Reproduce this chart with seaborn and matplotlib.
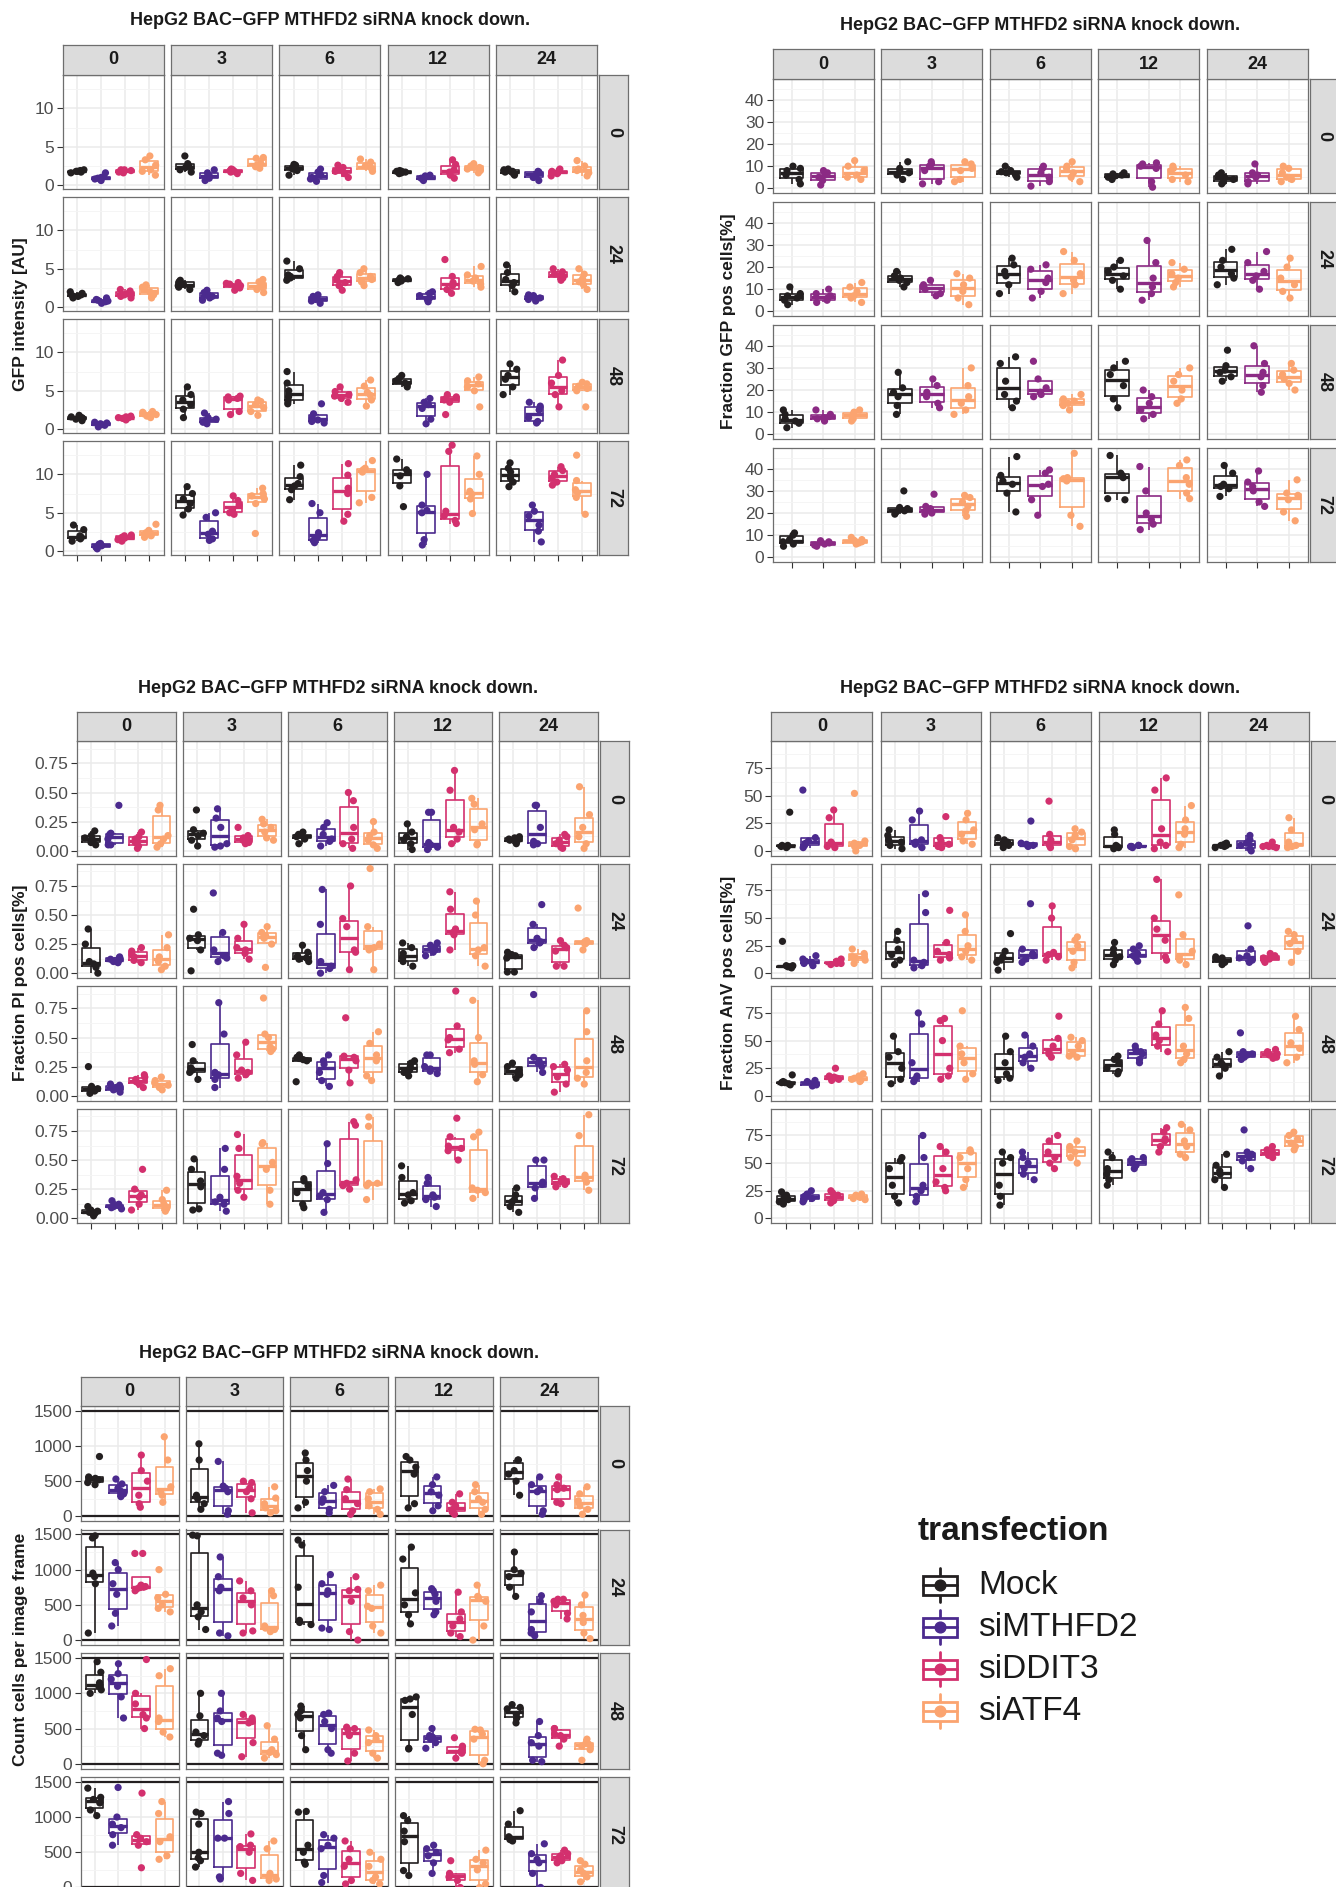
import numpy as np
import pandas as pd
import matplotlib
matplotlib.use("Agg")
import matplotlib.pyplot as plt
from matplotlib.patches import Rectangle
import seaborn as sns

np.random.seed(7)

W, H = 1336, 1887

COLS = ["0", "3", "6", "12", "24"]
ROWS = ["0", "24", "48", "72"]
GROUPS4 = ["Mock", "siMTHFD2", "siDDIT3", "siATF4"]
GROUPS3 = ["Mock", "siMTHFD2", "siATF4"]
PAL4 = ["#231f20", "#4b2a8e", "#d3306e", "#fba470"]
PAL3 = ["#231f20", "#8b2a84", "#fba470"]
TITLE = "HepG2 BAC\u2212GFP MTHFD2 siRNA knock down."

# ===== panel 1: GFP intensity [AU]  (row = facet row, list over columns, then groups) =====
GFP_INT_0 = [
    [[1.6, 1.7, 1.8, 1.9, 2.0, 1.8], [0.6, 0.8, 0.9, 1.0, 1.1, 1.6], [1.6, 1.7, 1.8, 1.9, 2.0, 2.0], [1.3, 1.8, 2.0, 2.6, 3.3, 3.8]],
    [[1.7, 2.0, 2.3, 2.5, 2.8, 3.8], [0.6, 0.9, 1.1, 1.3, 1.6, 2.0], [1.5, 1.7, 1.8, 1.9, 2.0, 2.1], [2.2, 2.4, 2.6, 2.9, 3.5, 3.6]],
    [[1.3, 1.9, 2.1, 2.3, 2.6, 2.7], [0.5, 0.8, 1.0, 1.3, 1.7, 2.1], [1.0, 1.5, 1.8, 2.0, 2.3, 2.6], [1.8, 2.0, 2.3, 2.5, 3.0, 3.4]],
    [[1.5, 1.6, 1.7, 1.8, 1.8, 1.9], [0.6, 0.8, 0.9, 1.0, 1.2, 1.3], [0.9, 1.3, 1.7, 2.0, 2.7, 3.3], [1.6, 1.9, 2.1, 2.3, 2.5, 2.8]],
    [[1.3, 1.5, 1.7, 1.8, 2.0, 2.1], [0.6, 1.0, 1.3, 1.5, 1.7, 1.8], [1.2, 1.5, 1.6, 1.8, 1.9, 2.1], [1.2, 1.6, 1.9, 2.1, 2.5, 3.2]],
]
GFP_INT_24 = [
    [[1.2, 1.4, 1.5, 1.6, 1.8, 2.0], [0.5, 0.7, 0.8, 0.9, 1.0, 1.2], [1.2, 1.4, 1.6, 1.8, 2.1, 2.3], [1.2, 1.6, 2.0, 2.3, 2.6, 2.9]],
    [[2.3, 2.6, 2.8, 3.0, 3.3, 3.5], [0.9, 1.2, 1.4, 1.6, 1.9, 2.2], [2.2, 2.5, 2.8, 3.0, 3.1, 3.2], [1.9, 2.3, 2.6, 2.9, 3.3, 3.6]],
    [[3.5, 3.8, 4.0, 4.2, 5.0, 6.0], [0.5, 0.8, 1.0, 1.2, 1.4, 1.6], [2.2, 2.8, 3.2, 3.6, 4.0, 4.5], [2.8, 3.3, 3.6, 4.0, 4.5, 5.0]],
    [[3.2, 3.4, 3.5, 3.6, 3.7, 3.8], [0.7, 1.0, 1.2, 1.5, 1.8, 2.0], [1.8, 2.3, 2.8, 3.2, 4.0, 6.2], [2.6, 3.0, 3.4, 3.8, 4.2, 5.3]],
    [[2.0, 2.8, 3.2, 3.6, 4.5, 5.5], [0.8, 1.0, 1.2, 1.3, 1.5, 1.6], [3.5, 3.8, 4.1, 4.3, 4.6, 5.0], [2.3, 2.9, 3.3, 3.7, 4.3, 5.0]],
]
GFP_INT_48 = [
    [[1.1, 1.3, 1.4, 1.5, 1.6, 1.8], [0.3, 0.5, 0.6, 0.7, 0.8, 0.9], [1.2, 1.4, 1.5, 1.5, 1.6, 1.7], [1.5, 1.7, 1.9, 2.0, 2.2, 2.3]],
    [[1.5, 2.6, 3.2, 3.8, 4.5, 5.5], [0.7, 0.9, 1.1, 1.3, 1.5, 2.1], [1.9, 2.3, 3.8, 4.0, 4.2, 4.3], [1.8, 2.3, 2.8, 3.2, 3.6, 3.8]],
    [[3.3, 3.6, 4.2, 5.0, 6.0, 7.5], [0.8, 1.0, 1.2, 1.4, 2.0, 3.3], [3.5, 4.0, 4.3, 4.5, 4.9, 5.5], [3.0, 3.8, 4.4, 4.8, 5.6, 6.4]],
    [[5.5, 5.8, 6.0, 6.3, 6.6, 7.0], [0.7, 1.3, 2.7, 3.2, 3.5, 4.0], [1.9, 3.5, 3.8, 4.0, 4.2, 4.5], [2.9, 5.0, 5.5, 5.9, 6.3, 6.8]],
    [[4.5, 5.5, 6.5, 7.0, 7.8, 8.5], [0.8, 1.0, 1.5, 2.5, 3.0, 3.5], [2.9, 4.5, 5.0, 6.0, 7.0, 9.0], [2.9, 5.0, 5.3, 5.6, 5.9, 6.1]],
]
GFP_INT_72 = [
    [[1.3, 1.6, 1.8, 2.0, 2.8, 3.4], [0.3, 0.5, 0.7, 0.8, 0.9, 1.0], [1.3, 1.5, 1.7, 1.8, 2.0, 2.1], [1.8, 2.0, 2.2, 2.4, 2.7, 3.5]],
    [[4.7, 5.5, 6.2, 6.8, 7.5, 8.4], [1.4, 1.6, 2.2, 2.6, 4.4, 5.0], [4.8, 5.0, 5.4, 6.0, 6.6, 7.2], [2.3, 6.2, 6.8, 7.2, 7.5, 8.2]],
    [[6.7, 8.0, 8.5, 8.8, 9.7, 11.2], [1.1, 1.4, 1.8, 2.4, 5.0, 6.2], [3.9, 4.8, 7.5, 8.2, 9.9, 11.4], [6.3, 7.0, 10.3, 10.6, 10.8, 11.8]],
    [[5.8, 8.5, 9.8, 10.3, 10.6, 12.0], [0.8, 1.5, 5.0, 5.3, 6.0, 10.0], [3.6, 4.0, 4.6, 5.2, 13.0, 13.8], [4.9, 6.8, 7.4, 7.8, 10.0, 12.4]],
    [[8.4, 9.0, 9.5, 10.3, 10.8, 11.5], [1.2, 2.6, 3.4, 4.6, 5.2, 6.0], [8.6, 9.0, 9.5, 10.0, 10.5, 11.0], [4.8, 7.0, 7.6, 8.0, 9.2, 12.5]],
]

# ===== panel 2: Fraction GFP pos cells[%] (3 groups) =====
GFP_POS_0 = [
    [[2, 4, 6, 8, 9, 10], [1.5, 3.5, 5, 6, 7, 8], [4, 5, 6, 8, 10, 12.5]],
    [[4, 6, 7, 8, 9, 12], [2, 3, 8, 10, 11, 12], [3, 4, 8, 9, 11, 12]],
    [[5, 6, 7, 7.5, 8, 10], [1, 3, 5, 7, 9, 10], [3, 5, 7, 9, 10, 12]],
    [[4, 5, 5.5, 6, 6.5, 7], [0.5, 3, 9, 10, 11, 11.5], [3, 4, 6, 8, 9, 10]],
    [[2, 3, 4, 5, 6, 7], [2, 3, 5, 6, 7, 11], [3, 4, 5, 7, 9, 10]],
]
GFP_POS_24 = [
    [[3, 5, 6, 7, 8, 11], [4, 5, 6, 7, 8, 10], [4, 6, 7, 9, 11, 13]],
    [[11, 13, 14, 15, 16, 18], [7, 8, 10, 11, 12, 14], [3, 6, 9, 12, 15, 17]],
    [[8, 12, 16, 18, 21, 24], [6, 9, 13, 15, 19, 21], [8, 12, 14, 17, 23, 27]],
    [[10, 14, 16, 18, 20, 23], [5, 8, 11, 15, 22, 32], [11, 13, 15, 17, 19, 22]],
    [[12, 15, 17, 20, 23, 28], [10, 14, 16, 18, 22, 27], [6, 9, 12, 15, 20, 24]],
]
GFP_POS_48 = [
    [[3, 5, 6, 7, 9, 11], [6, 7, 7.5, 8, 9, 11], [6, 7, 8, 9, 10, 11]],
    [[9, 13, 17, 19, 21, 28], [12, 14, 17, 19, 22, 25], [9, 11, 14, 17, 22, 30]],
    [[12, 15, 18, 24, 32, 35], [17, 18, 19, 21, 25, 33], [11, 13, 14, 15, 16, 18]],
    [[12, 16, 22, 27, 30, 33], [7, 9, 11, 14, 17, 20], [14, 16, 20, 24, 27, 30]],
    [[24, 26, 28, 29, 31, 38], [19, 22, 26, 28, 32, 40], [20, 23, 25, 27, 29, 32]],
]
GFP_POS_72 = [
    [[5, 6, 7, 8, 10, 11], [5, 5.5, 6, 6.5, 7, 7.5], [6, 6.5, 7, 7.5, 8, 9]],
    [[19.5, 20.5, 21, 22, 22.5, 30], [19.5, 20, 21, 22, 23, 28.5], [18.5, 21, 23, 25, 27, 28]],
    [[20.5, 29, 33, 34.5, 37, 45.5], [19, 26, 32, 33, 38, 39.5], [14, 19, 34.5, 35.5, 36, 47]],
    [[26, 26.5, 36, 37, 38, 46], [12.5, 15, 17, 20, 30, 41], [26.5, 29, 33, 36, 41.5, 44]],
    [[27.5, 31, 32, 33, 38, 41.5], [23, 25, 30, 32, 34, 39], [16.5, 20.5, 26, 28, 29, 35]],
]

# ===== panel 3: Fraction PI pos cells[%] =====
PI_0 = [
    [[0.05, 0.07, 0.09, 0.11, 0.13, 0.17], [0.05, 0.05, 0.10, 0.14, 0.15, 0.39], [0.02, 0.04, 0.07, 0.10, 0.12, 0.16], [0.03, 0.06, 0.10, 0.13, 0.35, 0.39]],
    [[0.04, 0.09, 0.13, 0.15, 0.18, 0.35], [0.03, 0.04, 0.06, 0.20, 0.28, 0.36], [0.06, 0.07, 0.09, 0.11, 0.13, 0.20], [0.09, 0.11, 0.16, 0.20, 0.23, 0.27]],
    [[0.06, 0.10, 0.12, 0.13, 0.14, 0.16], [0.04, 0.08, 0.10, 0.14, 0.20, 0.24], [0.02, 0.06, 0.10, 0.20, 0.43, 0.50], [0.02, 0.05, 0.09, 0.13, 0.16, 0.25]],
    [[0.01, 0.06, 0.09, 0.12, 0.16, 0.23], [0.01, 0.03, 0.05, 0.07, 0.33, 0.33], [0.06, 0.10, 0.16, 0.20, 0.52, 0.69], [0.05, 0.06, 0.18, 0.23, 0.40, 0.45]],
    [[0.06, 0.08, 0.09, 0.10, 0.11, 0.12], [0.05, 0.06, 0.08, 0.20, 0.39, 0.39], [0.02, 0.03, 0.06, 0.09, 0.12, 0.14], [0.02, 0.06, 0.12, 0.20, 0.31, 0.55]],
]
PI_24 = [
    [[0.00, 0.05, 0.08, 0.10, 0.25, 0.38], [0.09, 0.10, 0.11, 0.12, 0.13, 0.14], [0.09, 0.11, 0.14, 0.16, 0.19, 0.22], [0.03, 0.06, 0.10, 0.14, 0.22, 0.33]],
    [[0.02, 0.20, 0.28, 0.30, 0.33, 0.55], [0.10, 0.13, 0.15, 0.20, 0.35, 0.69], [0.12, 0.17, 0.20, 0.22, 0.30, 0.42], [0.05, 0.25, 0.30, 0.32, 0.35, 0.40]],
    [[0.10, 0.12, 0.13, 0.15, 0.18, 0.24], [0.00, 0.04, 0.06, 0.10, 0.42, 0.72], [0.03, 0.18, 0.20, 0.40, 0.47, 0.75], [0.03, 0.20, 0.22, 0.25, 0.40, 0.90]],
    [[0.06, 0.10, 0.13, 0.17, 0.22, 0.26], [0.15, 0.18, 0.20, 0.22, 0.24, 0.26], [0.20, 0.33, 0.35, 0.38, 0.55, 0.70], [0.06, 0.15, 0.20, 0.22, 0.50, 0.62]],
    [[0.01, 0.01, 0.13, 0.15, 0.16, 0.18], [0.22, 0.26, 0.27, 0.30, 0.42, 0.59], [0.06, 0.06, 0.19, 0.22, 0.24, 0.28], [0.20, 0.25, 0.26, 0.27, 0.28, 0.56]],
]
PI_48 = [
    [[0.02, 0.04, 0.05, 0.06, 0.08, 0.25], [0.03, 0.05, 0.06, 0.07, 0.09, 0.10], [0.07, 0.10, 0.12, 0.14, 0.16, 0.18], [0.05, 0.07, 0.09, 0.11, 0.13, 0.16]],
    [[0.14, 0.20, 0.22, 0.24, 0.30, 0.44], [0.07, 0.14, 0.18, 0.20, 0.53, 0.80], [0.15, 0.18, 0.20, 0.22, 0.35, 0.46], [0.38, 0.40, 0.42, 0.50, 0.53, 0.84]],
    [[0.12, 0.30, 0.31, 0.32, 0.33, 0.35], [0.08, 0.13, 0.20, 0.27, 0.30, 0.35], [0.11, 0.22, 0.30, 0.33, 0.34, 0.67], [0.13, 0.17, 0.30, 0.35, 0.45, 0.55]],
    [[0.17, 0.20, 0.22, 0.25, 0.28, 0.30], [0.19, 0.21, 0.23, 0.25, 0.35, 0.35], [0.37, 0.40, 0.48, 0.50, 0.60, 0.90], [0.12, 0.18, 0.27, 0.30, 0.50, 0.82]],
    [[0.15, 0.18, 0.20, 0.22, 0.25, 0.28], [0.20, 0.25, 0.28, 0.30, 0.33, 0.87], [0.03, 0.10, 0.16, 0.22, 0.25, 0.27], [0.10, 0.15, 0.20, 0.30, 0.55, 0.73]],
]
PI_72 = [
    [[0.02, 0.04, 0.05, 0.06, 0.07, 0.10], [0.08, 0.09, 0.10, 0.11, 0.12, 0.15], [0.07, 0.12, 0.18, 0.20, 0.25, 0.42], [0.06, 0.08, 0.10, 0.12, 0.16, 0.24]],
    [[0.07, 0.08, 0.27, 0.32, 0.42, 0.51], [0.06, 0.12, 0.14, 0.18, 0.42, 0.60], [0.18, 0.24, 0.30, 0.36, 0.60, 0.72], [0.12, 0.24, 0.42, 0.48, 0.64, 0.65]],
    [[0.09, 0.12, 0.22, 0.28, 0.32, 0.34], [0.05, 0.16, 0.19, 0.22, 0.47, 0.64], [0.25, 0.28, 0.30, 0.33, 0.80, 0.83], [0.16, 0.28, 0.30, 0.30, 0.79, 0.87]],
    [[0.13, 0.15, 0.20, 0.22, 0.35, 0.45], [0.10, 0.16, 0.18, 0.20, 0.30, 0.35], [0.50, 0.58, 0.60, 0.62, 0.70, 0.86], [0.17, 0.22, 0.24, 0.26, 0.70, 0.74]],
    [[0.05, 0.10, 0.14, 0.16, 0.20, 0.26], [0.17, 0.26, 0.29, 0.31, 0.50, 0.50], [0.27, 0.29, 0.31, 0.32, 0.34, 0.36], [0.24, 0.31, 0.34, 0.37, 0.71, 0.89]],
]

# ===== panel 4: Fraction AnV pos cells[%] =====
ANV_0 = [
    [[3, 4, 4, 5, 5, 35], [3, 5, 7, 9, 12, 55], [3, 4, 6, 8, 30, 37], [0, 4, 5, 7, 9, 52]],
    [[2, 5, 8, 10, 14, 19], [3, 6, 8, 10, 28, 36], [3, 4, 6, 9, 12, 31], [6, 9, 15, 19, 28, 34]],
    [[3, 5, 7, 8, 10, 12], [4, 5, 5, 6, 7, 27], [3, 5, 7, 10, 15, 45], [2, 4, 10, 14, 17, 20]],
    [[2, 3, 4, 5, 15, 19], [3, 4, 4, 4, 5, 5], [2, 5, 8, 20, 55, 66], [3, 6, 15, 20, 28, 41]],
    [[3, 4, 5, 5, 6, 7], [0, 2, 5, 7, 10, 14], [3, 4, 4, 4, 5, 8], [3, 4, 5, 8, 19, 30]],
]
ANV_24 = [
    [[5, 6, 6, 7, 7, 29], [7, 9, 10, 11, 13, 16], [8, 9, 9, 10, 11, 13], [9, 12, 14, 15, 18, 22]],
    [[8, 12, 17, 22, 30, 38], [5, 7, 10, 12, 55, 72], [12, 14, 17, 20, 28, 57], [12, 15, 20, 25, 38, 53]],
    [[3, 10, 12, 15, 20, 36], [10, 13, 16, 18, 22, 63], [12, 15, 17, 19, 50, 61], [5, 10, 20, 25, 30, 33]],
    [[8, 12, 15, 18, 22, 28], [11, 14, 16, 18, 22, 25], [12, 15, 30, 40, 50, 85], [8, 12, 15, 20, 35, 71]],
    [[8, 10, 12, 13, 14, 15], [10, 12, 14, 16, 22, 43], [10, 12, 13, 14, 16, 18], [10, 20, 27, 30, 35, 38]],
]
ANV_48 = [
    [[10, 11, 12, 12, 13, 19], [9, 10, 11, 12, 13, 14], [14, 15, 16, 17, 18, 25], [13, 14, 15, 16, 18, 20]],
    [[11, 15, 25, 35, 40, 54], [13, 15, 18, 30, 65, 75], [15, 18, 25, 50, 68, 70], [15, 20, 30, 38, 45, 77]],
    [[14, 16, 20, 30, 40, 54], [25, 30, 35, 38, 45, 55], [35, 38, 40, 45, 52, 72], [35, 36, 38, 45, 50, 53]],
    [[20, 22, 25, 30, 33, 36], [30, 33, 38, 40, 42, 45], [40, 45, 50, 55, 65, 77], [30, 33, 38, 45, 70, 80]],
    [[18, 25, 28, 30, 35, 40], [33, 35, 37, 38, 40, 57], [34, 35, 37, 38, 40, 42], [30, 35, 43, 48, 60, 72]],
]
ANV_72 = [
    [[13, 15, 17, 19, 21, 24], [15, 17, 18, 20, 22, 25], [14, 16, 18, 21, 23, 25], [17, 18, 19, 20, 21, 22]],
    [[14, 20, 30, 45, 52, 55], [15, 20, 25, 30, 55, 75], [25, 28, 33, 45, 60, 65], [28, 35, 45, 55, 60, 62]],
    [[12, 20, 30, 50, 55, 60], [35, 40, 45, 50, 55, 60], [45, 50, 55, 60, 70, 75], [50, 55, 60, 62, 65, 70]],
    [[30, 35, 40, 45, 55, 60], [45, 48, 50, 52, 54, 55], [60, 65, 70, 72, 78, 82], [55, 58, 65, 70, 80, 85]],
    [[28, 35, 40, 43, 48, 58], [45, 52, 55, 58, 60, 80], [55, 57, 58, 60, 62, 65], [62, 65, 68, 72, 75, 78]],
]

# ===== panel 5: Count cells per image frame =====
COUNT_0 = [
    [[450, 480, 520, 540, 560, 850], [280, 320, 360, 400, 460, 530], [130, 180, 300, 500, 650, 870], [200, 300, 350, 420, 800, 1130]],
    [[100, 180, 250, 300, 800, 1030], [30, 80, 350, 400, 430, 780], [50, 250, 350, 400, 480, 500], [50, 80, 120, 180, 260, 420]],
    [[120, 200, 500, 650, 800, 900], [50, 100, 200, 250, 350, 440], [30, 80, 180, 250, 380, 530], [30, 100, 150, 250, 350, 390]],
    [[120, 180, 600, 700, 800, 850], [80, 150, 300, 350, 450, 560], [30, 60, 100, 150, 200, 320], [30, 100, 200, 250, 350, 450]],
    [[300, 500, 600, 650, 800, 800], [30, 80, 350, 380, 450, 560], [180, 200, 380, 400, 450, 560], [30, 100, 150, 220, 320, 420]],
]
COUNT_24 = [
    [[100, 800, 900, 950, 1450, 1480], [200, 380, 650, 800, 1000, 1100], [700, 720, 740, 750, 760, 780, 1230, 1230], [400, 450, 500, 600, 650, 1000]],
    [[150, 330, 400, 500, 1480, 1490], [60, 100, 700, 750, 900, 1180], [100, 130, 500, 600, 700, 840], [120, 150, 170, 200, 630, 700]],
    [[220, 250, 280, 750, 1350, 1420], [150, 170, 650, 700, 800, 930], [0, 120, 550, 700, 720, 900], [100, 200, 450, 480, 700, 780]],
    [[230, 360, 500, 670, 1150, 1320], [360, 400, 550, 650, 700, 730], [50, 100, 200, 300, 400, 680], [0, 200, 550, 600, 620, 780]],
    [[620, 750, 900, 950, 1000, 1250], [60, 100, 150, 400, 550, 630], [300, 380, 500, 550, 580, 580], [20, 100, 250, 350, 500, 640]],
]
COUNT_48 = [
    [[1000, 1050, 1100, 1150, 1300, 1450], [650, 950, 1100, 1200, 1280, 1420], [500, 650, 700, 850, 1000, 1480], [380, 450, 600, 650, 1250, 1350]],
    [[280, 320, 400, 450, 680, 1000], [120, 150, 600, 650, 750, 1000], [100, 300, 580, 600, 650, 700], [80, 130, 160, 200, 350, 540]],
    [[200, 400, 650, 700, 750, 820], [150, 200, 500, 600, 700, 720], [40, 150, 400, 480, 500, 520], [80, 150, 300, 350, 400, 480]],
    [[210, 220, 700, 900, 920, 950], [220, 300, 350, 380, 400, 500], [80, 150, 170, 200, 250, 370], [0, 50, 350, 420, 480, 490]],
    [[580, 650, 700, 780, 800, 840], [30, 50, 250, 300, 400, 600], [250, 350, 400, 420, 500, 500], [50, 200, 250, 280, 300, 350]],
]
COUNT_72 = [
    [[1020, 1100, 1200, 1250, 1280, 1410], [600, 750, 850, 900, 1000, 1420], [280, 600, 650, 700, 750, 1340], [400, 450, 650, 720, 1050, 1220]],
    [[290, 380, 420, 500, 900, 1050, 1070], [120, 150, 700, 700, 1050, 1220], [100, 200, 500, 580, 600, 760], [100, 120, 150, 200, 550, 660]],
    [[330, 360, 500, 600, 1070, 1080], [70, 170, 550, 600, 700, 750], [50, 100, 300, 400, 550, 660], [50, 100, 150, 300, 400, 500]],
    [[170, 240, 650, 800, 950, 1020], [200, 350, 450, 500, 550, 600], [0, 100, 150, 170, 200, 380], [0, 50, 250, 350, 400, 530]],
    [[660, 680, 700, 720, 900, 1090], [0, 200, 350, 400, 480, 620], [350, 380, 420, 450, 480, 530], [80, 150, 200, 250, 330, 380]],
]

sns.set_style("white")
plt.rcParams["font.family"] = ["Liberation Sans", "DejaVu Sans"]

fig = plt.figure(figsize=(W / 100, H / 100), dpi=100)
TXT = "#1a1a1a"


def px_axes(l, t, w, h):
    return fig.add_axes([l / W, 1 - (t + h) / H, w / W, h / H])


def to_frame(rows, groups):
    recs = []
    for r, row in enumerate(rows):
        for c, col in enumerate(row):
            for g, pts in zip(groups, col):
                for v in pts:
                    recs.append((ROWS[r], COLS[c], g, v))
    return pd.DataFrame(recs, columns=["row", "col", "transfection", "value"])


def strip(l, t, w, h, label, rot=0):
    s = px_axes(l, t, w, h)
    s.set_facecolor("#dcdcdc")
    s.set_xticks([])
    s.set_yticks([])
    for sp in s.spines.values():
        sp.set_color("#6e6e6e")
        sp.set_linewidth(0.9)
    s.text(0.5, 0.5, label, transform=s.transAxes, ha="center", va="center",
           fontsize=13, fontweight="bold", color=TXT, rotation=rot)


def draw_panel(rows, groups, pal, geo, ylim, yticks, yticklabels, yminor,
               ylabel, title_xy, ylabel_x, hlines=None):
    df = to_frame(rows, groups)
    x0, cw, gx, y0, rh, gy, sh, rw = geo
    n = len(groups)
    for r in range(4):
        for c in range(5):
            l = x0 + c * (cw + gx)
            t = y0 + r * (rh + gy)
            ax = px_axes(l, t, cw, rh)
            sub = df[(df["row"] == ROWS[r]) & (df["col"] == COLS[c])]
            if hlines is not None:
                for hv in hlines:
                    ax.axhline(hv, color="#231f20", lw=1.6, zorder=1)
            for g, colr in zip(groups, pal):
                sns.boxplot(data=sub[sub["transfection"] == g], x="transfection", y="value",
                            order=groups, color=colr, fill=False, showfliers=False,
                            width=0.75, linewidth=1.2,
                            medianprops={"color": colr, "linewidth": 2.4},
                            capprops={"color": colr, "linewidth": 0}, ax=ax)
            sns.stripplot(data=sub, x="transfection", y="value", hue="transfection",
                          order=groups, hue_order=groups, palette=pal, jitter=0.3,
                          size=5.2, legend=False, ax=ax, zorder=4)
            ax.set_xlim(-0.6, n - 0.4)
            ax.set_ylim(*ylim)
            ax.set_xticks(range(n))
            ax.set_xticklabels([])
            ax.set_yticks(yticks)
            ax.set_yticks(yminor, minor=True)
            ax.set_xlabel("")
            ax.set_ylabel("")
            ax.set_facecolor("white")
            ax.set_axisbelow(True)
            ax.grid(which="major", color="#ebebeb", lw=1.1)
            ax.grid(which="minor", axis="y", color="#f4f4f4", lw=0.6)
            for sp in ax.spines.values():
                sp.set_visible(True)
                sp.set_color("#6e6e6e")
                sp.set_linewidth(0.9)
            if c == 0:
                ax.set_yticklabels(yticklabels)
                ax.tick_params(axis="y", which="major", left=True, length=4, width=0.8,
                               color="#333333", labelsize=12.5, labelcolor="#4d4d4d", pad=2)
            else:
                ax.tick_params(axis="y", which="major", left=False, labelleft=False)
            ax.tick_params(axis="y", which="minor", left=False)
            if r == 3:
                ax.tick_params(axis="x", bottom=True, length=4, width=0.8, color="#333333")
            else:
                ax.tick_params(axis="x", bottom=False)
            if r == 0:
                strip(l, t - sh, cw, sh, COLS[c])
            if c == 4:
                strip(l + cw + 2, t, rw, rh, ROWS[r], rot=-90)
    fig.text(title_xy[0] / W, 1 - title_xy[1] / H, TITLE, ha="center", va="center",
             fontsize=13, fontweight="bold", color=TXT)
    yc = y0 + (4 * rh + 3 * gy) / 2
    fig.text(ylabel_x / W, 1 - yc / H, ylabel, rotation=90, ha="center", va="center",
             fontsize=12.5, fontweight="bold", color=TXT)


draw_panel([GFP_INT_0, GFP_INT_24, GFP_INT_48, GFP_INT_72], GROUPS4, PAL4,
           (62.6, 101, 7.3, 74.6, 114, 8, 30, 29), (-0.45, 14.4),
           [0, 5, 10], ["0", "5", "10"], [2.5, 7.5, 12.5],
           "GFP intensity [AU]", (330, 20.5), 20.5)

draw_panel([GFP_POS_0, GFP_POS_24, GFP_POS_48, GFP_POS_72], GROUPS3, PAL3,
           (772.7, 101, 7.5, 79.4, 114, 9, 30, 29), (-2.3, 49.2),
           [0, 10, 20, 30, 40], ["0", "10", "20", "30", "40"], [5, 15, 25, 35, 45],
           "Fraction GFP pos cells[%]", (1040, 25.5), 729)

draw_panel([PI_0, PI_24, PI_48, PI_72], GROUPS4, PAL4,
           (77, 98.6, 7, 741.4, 114.5, 8, 29, 29), (-0.045, 0.94),
           [0, 0.25, 0.5, 0.75], ["0.00", "0.25", "0.50", "0.75"], [0.125, 0.375, 0.625, 0.875],
           "Fraction PI pos cells[%]", (338, 688.5), 20.5)

draw_panel([ANV_0, ANV_24, ANV_48, ANV_72], GROUPS4, PAL4,
           (771.5, 101, 8, 741.4, 114.5, 8, 29, 29), (-4.5, 99),
           [0, 25, 50, 75], ["0", "25", "50", "75"], [12.5, 37.5, 62.5, 87.5],
           "Fraction AnV pos cells[%]", (1040, 688.5), 729)

draw_panel([COUNT_0, COUNT_24, COUNT_48, COUNT_72], GROUPS4, PAL4,
           (80.6, 97.9, 7, 1405.8, 115.5, 8.2, 29, 29), (-70, 1570),
           [0, 500, 1000, 1500], ["0", "500", "1000", "1500"], [250, 750, 1250],
           "Count cells per image frame", (339, 1354), 20.5, hlines=[0, 1500])

# ===== legend =====
leg = fig.add_axes([0, 0, 1, 1])
leg.patch.set_visible(False)
leg.set_xlim(0, W)
leg.set_ylim(H, 0)
leg.axis("off")
leg.text(918, 1532, "transfection", fontsize=24, fontweight="bold", color=TXT,
         ha="left", va="center")
for i, (g, colr) in enumerate(zip(GROUPS4, PAL4)):
    yc = 1585 + 42 * i
    leg.plot([940, 940], [yc - 17, yc + 17], color=colr, lw=2)
    leg.add_patch(Rectangle((923, yc - 9.5), 34, 19, facecolor="white", edgecolor=colr, lw=2, zorder=3))
    leg.plot([923, 957], [yc, yc], color=colr, lw=2, zorder=4)
    leg.scatter([940], [yc], s=60, color=colr, zorder=5)
    leg.text(978, yc, g, fontsize=24, color=TXT, ha="left", va="center")

fig.savefig("out.png", dpi=100)
